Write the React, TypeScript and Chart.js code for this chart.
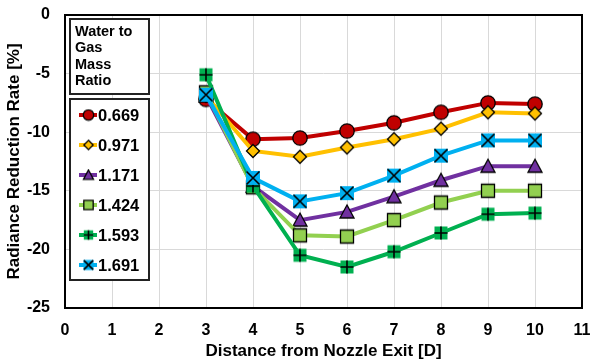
import React, { useEffect, useRef } from "react";
import { Chart, registerables } from "chart.js";

Chart.register(...registerables);

const distances = [3, 4, 5, 6, 7, 8, 9, 10];
const ratioLabels = ["0.669", "0.971", "1.171", "1.424", "1.593", "1.691"];
const r0669 = [-7.2, -10.6, -10.5, -9.9, -9.2, -8.3, -7.5, -7.6];
const r0971 = [-6.9, -11.6, -12.1, -11.3, -10.6, -9.7, -8.3, -8.4];
const r1171 = [-6.9, -14.6, -17.5, -16.8, -15.5, -14.1, -12.9, -12.9];
const r1424 = [-6.6, -14.7, -18.8, -18.9, -17.5, -16.0, -15.0, -15.0];
const r1593 = [-5.1, -14.6, -20.5, -21.5, -20.2, -18.6, -17.0, -16.9];
const r1691 = [-6.8, -13.9, -15.9, -15.2, -13.7, -12.0, -10.7, -10.7];
const xTicks = [0, 1, 2, 3, 4, 5, 6, 7, 8, 9, 10, 11];
const yTicks = [-25, -20, -15, -10, -5, 0];
const legendTitle = ["Water to", "Gas", "Mass", "Ratio"];

const seriesValues = [r0669, r0971, r1171, r1424, r1593, r1691];
const colors = ["#C00000", "#FFC000", "#7030A0", "#92D050", "#00B050", "#00B0F0"];
const markerKinds = ["circle", "diamond", "triangle", "square", "plusSquare", "crossSquare"];

function makeMarker(kind: string, fill: string, k: number): HTMLCanvasElement {
  const S = Math.ceil(18 * k);
  const c = document.createElement("canvas");
  c.width = S;
  c.height = S;
  const ctx = c.getContext("2d")!;
  const m = S / 2;
  ctx.lineWidth = 1.3;
  ctx.strokeStyle = "#000";
  ctx.fillStyle = fill;
  ctx.beginPath();
  if (kind === "circle") {
    ctx.arc(m, m, 7.2 * k, 0, Math.PI * 2);
    ctx.fill();
    ctx.stroke();
  } else if (kind === "diamond") {
    const r = 6.5 * k;
    ctx.moveTo(m, m - r);
    ctx.lineTo(m + r, m);
    ctx.lineTo(m, m + r);
    ctx.lineTo(m - r, m);
    ctx.closePath();
    ctx.fill();
    ctx.stroke();
  } else if (kind === "triangle") {
    ctx.moveTo(m, m - 7 * k);
    ctx.lineTo(m + 7 * k, m + 6 * k);
    ctx.lineTo(m - 7 * k, m + 6 * k);
    ctx.closePath();
    ctx.fill();
    ctx.stroke();
  } else if (kind === "square") {
    const h = 6.5 * k;
    ctx.rect(m - h, m - h, 2 * h, 2 * h);
    ctx.fill();
    ctx.stroke();
  } else if (kind === "plusSquare") {
    const h = 6.5 * k;
    ctx.fillRect(m - h, m - h, 2 * h, 2 * h);
    ctx.beginPath();
    ctx.lineWidth = 1.6;
    ctx.moveTo(m, m - h);
    ctx.lineTo(m, m + h);
    ctx.moveTo(m - h, m);
    ctx.lineTo(m + h, m);
    ctx.stroke();
  } else if (kind === "crossSquare") {
    const h = 7 * k;
    const g = 6.5 * k;
    ctx.fillRect(m - h, m - h, 2 * h, 2 * h);
    ctx.beginPath();
    ctx.lineWidth = 1.6;
    ctx.moveTo(m - g, m - g);
    ctx.lineTo(m + g, m + g);
    ctx.moveTo(m + g, m - g);
    ctx.lineTo(m - g, m + g);
    ctx.stroke();
  }
  return c;
}

const FONT = "'Liberation Sans', Arial, sans-serif";

export default function App() {
  const ref = useRef<HTMLCanvasElement | null>(null);
  useEffect(() => {
    document.body.style.margin = "0";
    const markers = markerKinds.map((k, i) => makeMarker(k, colors[i], 1));
    const legendMarkers = markerKinds.map((k, i) => makeMarker(k, colors[i], 0.72));
    const n = seriesValues.length;
    const datasets = seriesValues.map((vals, i) => ({
      label: ratioLabels[i],
      data: distances.map((d, j) => ({ x: d, y: vals[j] })),
      borderColor: colors[i],
      backgroundColor: colors[i],
      borderWidth: 4,
      pointStyle: markers[i] as any,
      pointRadius: 7,
      order: n - 1 - i,
      tension: 0,
    }));

    const overlay = {
      id: "overlay",
      afterDraw(chart: any) {
        const ctx = chart.ctx;
        const a = chart.chartArea;
        ctx.save();
        ctx.strokeStyle = "#000";
        ctx.lineWidth = 2;
        ctx.strokeRect(a.left, a.top, a.right - a.left, a.bottom - a.top);

        // legend title box
        ctx.fillStyle = "#fff";
        ctx.lineWidth = 2;
        ctx.fillRect(70, 19, 79, 75);
        ctx.strokeStyle = "#222";
        ctx.strokeRect(70, 19, 79, 75);
        ctx.fillStyle = "#000";
        ctx.font = `bold 14.5px ${FONT}`;
        ctx.textBaseline = "middle";
        ctx.textAlign = "left";
        legendTitle.forEach((t, i) => ctx.fillText(t, 75, 32 + i * 16.3));

        // legend entries box
        ctx.fillStyle = "#fff";
        ctx.fillRect(70, 99, 79, 181);
        ctx.strokeRect(70, 99, 79, 181);
        ctx.font = `bold 16.5px ${FONT}`;
        ratioLabels.forEach((lab, i) => {
          const y = 115 + i * 30;
          ctx.strokeStyle = colors[i];
          ctx.lineWidth = 4;
          ctx.beginPath();
          ctx.moveTo(79, y);
          ctx.lineTo(97, y);
          ctx.stroke();
          const mk = legendMarkers[i];
          ctx.drawImage(mk, 88.5 - mk.width / 2, y - mk.height / 2);
          ctx.fillStyle = "#000";
          ctx.fillText(lab, 98, y + 1);
        });
        ctx.restore();
      },
    };

    const chart = new Chart(ref.current!, {
      type: "line",
      data: { datasets: datasets as any },
      options: {
        animation: false,
        responsive: false,
        maintainAspectRatio: false,
        layout: { padding: { top: 15, right: 9, left: 0, bottom: 0 } },
        plugins: { legend: { display: false }, tooltip: { enabled: false } },
        scales: {
          x: {
            type: "linear",
            min: 0,
            max: 11,
            afterBuildTicks: (s: any) => {
              s.ticks = xTicks.map((v) => ({ value: v }));
            },
            afterFit: (s: any) => {
              s.height = 54;
              s.paddingLeft = 0;
              s.paddingRight = 0;
              if (s._margins) {
                s._margins.left = 0;
                s._margins.right = 0;
              }
            },
            grid: { color: "#d9d9d9", lineWidth: 1, drawTicks: false },
            border: { display: false },
            ticks: {
              color: "#000",
              font: { family: FONT, size: 16, weight: "bold" },
              padding: 13,
            },
            title: {
              display: true,
              text: "Distance from Nozzle Exit [D]",
              color: "#000",
              font: { family: FONT, size: 17, weight: "bold" },
              padding: { top: 0, bottom: 0 },
            },
          },
          y: {
            type: "linear",
            min: -25,
            max: 0,
            afterBuildTicks: (s: any) => {
              s.ticks = yTicks.map((v) => ({ value: v }));
            },
            afterFit: (s: any) => {
              s.width = 65;
              s.paddingTop = 0;
              s.paddingBottom = 0;
            },
            grid: { color: "#d9d9d9", lineWidth: 1, drawTicks: false },
            border: { display: false },
            ticks: {
              color: "#000",
              font: { family: FONT, size: 16, weight: "bold" },
              padding: 15,
            },
            title: {
              display: true,
              text: "Radiance Reduction Rate [%]",
              color: "#000",
              font: { family: FONT, size: 17, weight: "bold" },
              padding: { top: 4, bottom: 4 },
            },
          },
        },
      },
      plugins: [overlay],
    });
    return () => chart.destroy();
  }, []);
  return (
    <div style={{ position: "fixed", left: 0, top: 0, width: 593, height: 362, background: "#fff" }}>
      <canvas ref={ref} width={593} height={362} style={{ width: 593, height: 362 }} />
    </div>
  );
}
